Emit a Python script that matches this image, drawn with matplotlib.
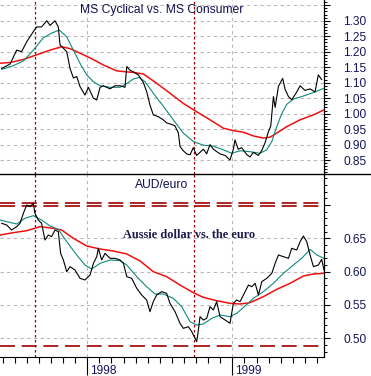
import matplotlib
matplotlib.use("Agg")
import matplotlib.pyplot as plt
import matplotlib.transforms as mtransforms
from matplotlib.lines import Line2D
from matplotlib.ticker import FixedLocator, MultipleLocator

plt.rcParams['font.family'] = ['Liberation Sans', 'DejaVu Sans']

# ---- top panel: MS Cyclical vs. MS Consumer ----
top_x = [1997.410, 1997.467, 1997.513, 1997.547, 1997.582, 1997.628, 1997.651, 1997.685,
         1997.720, 1997.743, 1997.777, 1997.800, 1997.812, 1997.858, 1997.881, 1997.904,
         1997.927, 1997.950, 1997.984, 1998.007, 1998.042, 1998.065, 1998.088, 1998.111,
         1998.157, 1998.191, 1998.226, 1998.260, 1998.272, 1998.295, 1998.318, 1998.352,
         1998.387, 1998.410, 1998.432, 1998.455, 1998.490, 1998.524, 1998.547, 1998.582,
         1998.605, 1998.628, 1998.639, 1998.662, 1998.685, 1998.708, 1998.731, 1998.754,
         1998.777, 1998.800, 1998.823, 1998.846, 1998.869, 1998.915, 1998.950, 1998.984,
         1999.007, 1999.018, 1999.041, 1999.064, 1999.099, 1999.122, 1999.145, 1999.179,
         1999.202, 1999.225, 1999.249, 1999.265, 1999.283, 1999.295, 1999.318, 1999.347,
         1999.364, 1999.387, 1999.410, 1999.444, 1999.467, 1999.501, 1999.536, 1999.570,
         1999.593, 1999.616]
top_px = [1.146, 1.160, 1.205, 1.200, 1.232, 1.265, 1.280, 1.280,
          1.300, 1.285, 1.300, 1.280, 1.222, 1.200, 1.146, 1.115,
          1.120, 1.087, 1.060, 1.085, 1.050, 1.044, 1.085, 1.090,
          1.080, 1.090, 1.090, 1.085, 1.152, 1.140, 1.135, 1.125,
          1.100, 1.070, 1.028, 0.996, 0.990, 0.980, 0.970, 0.965,
          0.960, 0.937, 0.894, 0.880, 0.870, 0.867, 0.890, 0.865,
          0.875, 0.885, 0.870, 0.900, 0.885, 0.870, 0.865, 0.850,
          0.885, 0.915, 0.885, 0.890, 0.868, 0.860, 0.875, 0.865,
          0.880, 0.905, 0.942, 0.960, 1.055, 1.020, 1.088, 1.114,
          1.078, 1.055, 1.045, 1.070, 1.090, 1.075, 1.080, 1.070,
          1.125, 1.110]

top_ma1_x = [1997.410, 1997.490, 1997.559, 1997.628, 1997.697, 1997.754, 1997.807, 1997.858,
             1997.904, 1997.950, 1997.996, 1998.042, 1998.088, 1998.157, 1998.226, 1998.272,
             1998.318, 1998.359, 1998.398, 1998.455, 1998.524, 1998.593, 1998.662, 1998.731,
             1998.800, 1998.869, 1998.938, 1998.996, 1999.053, 1999.122, 1999.191, 1999.237,
             1999.272, 1999.306, 1999.341, 1999.375, 1999.421, 1999.490, 1999.559, 1999.632]
top_ma1 = [1.143, 1.155, 1.170, 1.205, 1.245, 1.260, 1.270, 1.248,
           1.205, 1.162, 1.125, 1.103, 1.090, 1.085, 1.085, 1.097,
           1.112, 1.117, 1.103, 1.066, 1.024, 0.980, 0.937, 0.910,
           0.898, 0.895, 0.883, 0.872, 0.880, 0.877, 0.872, 0.883,
           0.910, 0.958, 1.000, 1.030, 1.047, 1.057, 1.068, 1.082]

top_ma2_x = [1997.398, 1997.467, 1997.559, 1997.651, 1997.743, 1997.823, 1997.881, 1997.950,
             1998.019, 1998.111, 1998.203, 1998.318, 1998.387, 1998.478, 1998.570, 1998.662,
             1998.754, 1998.846, 1998.938, 1999.007, 1999.076, 1999.145, 1999.214, 1999.260,
             1999.306, 1999.375, 1999.467, 1999.559, 1999.632]
top_ma2 = [1.163, 1.165, 1.175, 1.190, 1.205, 1.216, 1.210, 1.195,
           1.180, 1.157, 1.138, 1.133, 1.128, 1.098, 1.066, 1.033,
           1.006, 0.980, 0.953, 0.945, 0.940, 0.928, 0.921, 0.924,
           0.937, 0.958, 0.980, 0.996, 1.012]

# ---- bottom panel: AUD/euro ----
bot_x = [1997.410, 1997.444, 1997.478, 1997.513, 1997.536, 1997.559, 1997.582, 1997.605,
         1997.628, 1997.639, 1997.662, 1997.685, 1997.708, 1997.731, 1997.754, 1997.777,
         1997.800, 1997.816, 1997.835, 1997.858, 1997.881, 1997.915, 1997.950, 1997.984,
         1998.019, 1998.042, 1998.065, 1998.076, 1998.099, 1998.122, 1998.157, 1998.191,
         1998.226, 1998.249, 1998.272, 1998.306, 1998.341, 1998.375, 1998.409, 1998.432,
         1998.455, 1998.478, 1998.513, 1998.547, 1998.570, 1998.605, 1998.639, 1998.662,
         1998.697, 1998.720, 1998.743, 1998.754, 1998.766, 1998.777, 1998.800, 1998.823,
         1998.846, 1998.869, 1998.892, 1998.915, 1998.950, 1998.984, 1999.007, 1999.030,
         1999.053, 1999.088, 1999.111, 1999.134, 1999.157, 1999.180, 1999.203, 1999.237,
         1999.272, 1999.295, 1999.318, 1999.352, 1999.387, 1999.409, 1999.444, 1999.467,
         1999.490, 1999.513, 1999.536, 1999.559, 1999.593, 1999.616, 1999.632]
bot_px = [0.6725, 0.6700, 0.6625, 0.6675, 0.6725, 0.6875, 0.7000, 0.6975,
          0.7025, 0.6875, 0.6775, 0.6725, 0.6475, 0.6550, 0.6525, 0.6625,
          0.6600, 0.6275, 0.6175, 0.6000, 0.6075, 0.6025, 0.5900, 0.5875,
          0.5950, 0.6125, 0.6225, 0.6350, 0.6175, 0.6275, 0.6200, 0.6200,
          0.6175, 0.6125, 0.5925, 0.5900, 0.5750, 0.5650, 0.5575, 0.5400,
          0.5550, 0.5650, 0.5700, 0.5675, 0.5525, 0.5400, 0.5225, 0.5150,
          0.5175, 0.5100, 0.5000, 0.4950, 0.5125, 0.5325, 0.5275, 0.5300,
          0.5475, 0.5425, 0.5550, 0.5325, 0.5275, 0.5225, 0.5525, 0.5575,
          0.5550, 0.5700, 0.5800, 0.5775, 0.5825, 0.5650, 0.5850, 0.5900,
          0.5975, 0.6125, 0.6250, 0.6225, 0.6200, 0.6350, 0.6325, 0.6450,
          0.6535, 0.6450, 0.6250, 0.6075, 0.6100, 0.6185, 0.6025]

bot_ma1_x = [1997.398, 1997.444, 1997.513, 1997.570, 1997.628, 1997.685, 1997.743, 1997.800,
             1997.858, 1997.927, 1997.984, 1998.030, 1998.088, 1998.157, 1998.226, 1998.272,
             1998.341, 1998.409, 1998.467, 1998.524, 1998.593, 1998.651, 1998.708, 1998.754,
             1998.800, 1998.858, 1998.915, 1998.984, 1999.030, 1999.088, 1999.145, 1999.214,
             1999.283, 1999.352, 1999.421, 1999.478, 1999.536, 1999.582, 1999.632]
bot_ma1 = [0.6775, 0.6750, 0.6715, 0.6800, 0.6840, 0.6775, 0.6685, 0.6635,
           0.6450, 0.6250, 0.6100, 0.6040, 0.6125, 0.6175, 0.6165, 0.6100,
           0.5925, 0.5775, 0.5665, 0.5665, 0.5600, 0.5475, 0.5250, 0.5200,
           0.5215, 0.5300, 0.5350, 0.5325, 0.5375, 0.5485, 0.5600, 0.5700,
           0.5825, 0.5975, 0.6100, 0.6200, 0.6335, 0.6250, 0.6200]

bot_ma2_x = [1997.398, 1997.490, 1997.582, 1997.674, 1997.766, 1997.823, 1997.904, 1997.996,
             1998.088, 1998.180, 1998.272, 1998.364, 1998.455, 1998.547, 1998.639, 1998.731,
             1998.800, 1998.892, 1998.984, 1999.053, 1999.122, 1999.214, 1999.306, 1999.398,
             1999.490, 1999.559, 1999.632]
bot_ma2 = [0.6550, 0.6585, 0.6615, 0.6675, 0.6650, 0.6625, 0.6500, 0.6385,
           0.6340, 0.6310, 0.6265, 0.6160, 0.6000, 0.5925, 0.5800, 0.5685,
           0.5615, 0.5565, 0.5525, 0.5515, 0.5535, 0.5625, 0.5735, 0.5825,
           0.5935, 0.5965, 0.5975]

event_dates = [1997.637, 1998.738]
band_levels = [0.7035, 0.6985, 0.4885]
top_labels = ['0.85', '0.90', '0.95', '1.00', '1.05', '1.10', '1.15', '1.20', '1.25', '1.30']
bot_labels = ['0.50', '0.55', '0.60', '0.65']
year_ticks = [1998, 1999]

X0, X1 = 1997.398, 1999.632
PRICE = 'black'
TEAL = '#0e8a7a'
RED = '#f01010'
DRED = '#a00000'
NAVY = '#14145a'
GRID = '#b8b8b8'

fig = plt.figure(figsize=(3.71, 3.76), dpi=100)
ax1 = fig.add_axes([0, 1 - 174/376, 324/371, 174/376])
ax2 = fig.add_axes([0, 1 - 357/376, 324/371, 183/376])

for ax in (ax1, ax2):
    ax.set_xlim(X0, X1)
    for s in ('left', 'top'):
        ax.spines[s].set_visible(False)
    ax.spines['right'].set_linewidth(0.9)
    ax.yaxis.tick_right()
    ax.tick_params(axis='y', which='major', length=4.5, width=0.8, pad=9.5,
                   labelsize=8.6, labelcolor=NAVY, colors='black')
    ax.tick_params(axis='y', which='minor', length=2.2, width=0.7, colors='black')
    ax.tick_params(axis='y', labelcolor=NAVY)
    ax.yaxis.set_minor_locator(MultipleLocator(0.01))
    for yr in year_ticks:
        ax.axvline(yr, color=GRID, lw=0.8, ls=(0, (3, 3)), zorder=0)
    for d in event_dates:
        ax.axvline(d, color=DRED, lw=0.9, ls=(0, (2, 2)), zorder=1)

# top panel
ax1.set_ylim(0.805, 1.367)
ax1.spines['bottom'].set_visible(False)
ax1.set_xticks([])
top_vals = [0.80] + [float(v) for v in top_labels] + [1.35]
ax1.yaxis.set_major_locator(FixedLocator(top_vals))
ax1.set_yticklabels([''] + top_labels + [''])
for v in top_vals:
    ax1.axhline(v, color=GRID, lw=0.8, ls=(0, (3, 3)), zorder=0)
ax1.plot(top_ma2_x, top_ma2, color=RED, lw=1.1, zorder=3)
ax1.plot(top_ma1_x, top_ma1, color=TEAL, lw=0.8, zorder=4)
ax1.plot(top_x, top_px, color=PRICE, lw=0.8, zorder=5)
ax1.text(0.5, 0.94, 'MS Cyclical vs. MS Consumer', transform=ax1.transAxes,
         ha='center', va='center', fontsize=8.7, color='#101050')

# bottom panel
ax2.set_ylim(0.472, 0.7465)
bot_vals = [float(v) for v in bot_labels] + [0.70]
ax2.yaxis.set_major_locator(FixedLocator(bot_vals))
ax2.set_yticklabels(bot_labels + [''])
for v in bot_vals[:-1]:
    ax2.axhline(v, color=GRID, lw=0.8, ls=(0, (3, 3)), zorder=0)
for lv in band_levels:
    ax2.axhline(lv, color=DRED, lw=1.2, ls=(0, (9, 4)), zorder=2)
ax2.plot(bot_ma2_x, bot_ma2, color=RED, lw=1.1, zorder=3)
ax2.plot(bot_ma1_x, bot_ma1, color=TEAL, lw=0.8, zorder=4)
ax2.plot(bot_x, bot_px, color=PRICE, lw=0.8, zorder=5)
ax2.text(0.5, 0.94, 'AUD/euro', transform=ax2.transAxes,
         ha='center', va='center', fontsize=8.7, color='#101050')
ax2.text(0.583, 0.665, 'Aussie dollar vs. the euro', transform=ax2.transAxes,
         ha='center', va='center', fontsize=8.8, fontweight='bold',
         family='Liberation Serif', color='#1a1a4a', zorder=6)

# x axis with month minor ticks
ax2.set_xticks(year_ticks)
ax2.set_xticklabels([str(y) for y in year_ticks])
ax2.xaxis.set_minor_locator(FixedLocator([1997 + m / 12 for m in range(5, 32)]))
ax2.tick_params(axis='x', which='major', length=13, width=0.8, direction='out',
                pad=-8, labelsize=8.6, labelcolor=NAVY)
ax2.tick_params(axis='x', which='minor', length=4.3, width=0.8, direction='out')
offset = mtransforms.ScaledTranslation(2.5 / 100, -1.5 / 100, fig.dpi_scale_trans)
for lab in ax2.get_xticklabels():
    lab.set_horizontalalignment('left')
    lab.set_transform(lab.get_transform() + offset)

# divider line across full width
fig.add_artist(Line2D([0, 1], [1 - 174/376, 1 - 174/376], color='black', lw=1.0,
                      transform=fig.transFigure))

fig.savefig('out.png', dpi=100)
